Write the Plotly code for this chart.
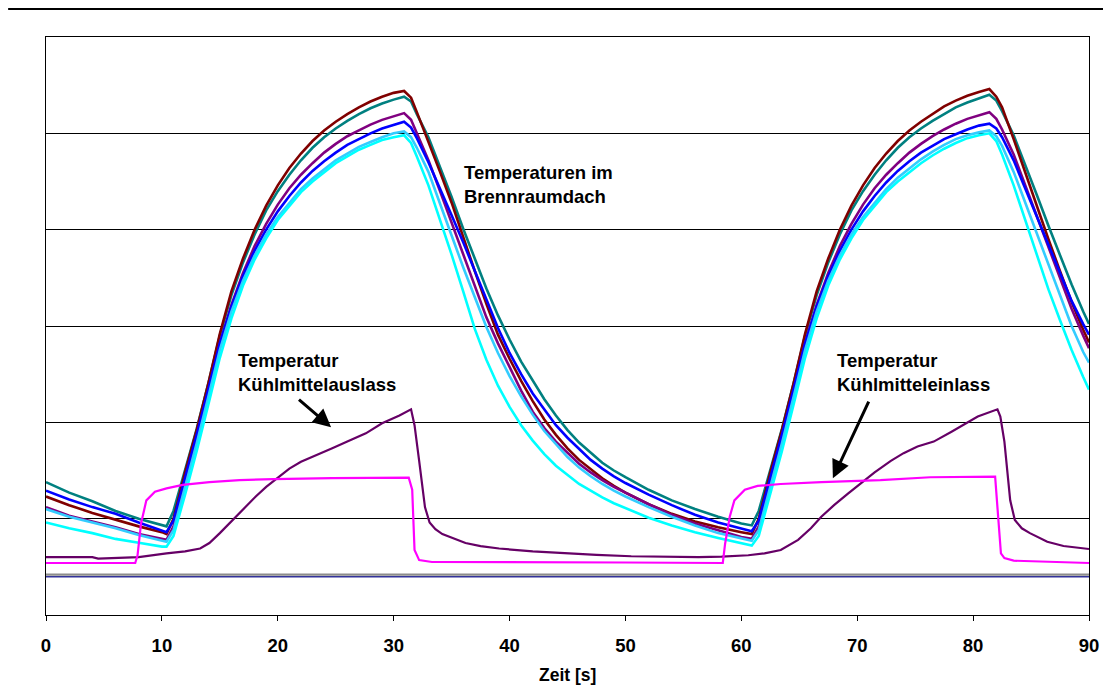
import plotly.graph_objects as go

# ---------------- data ----------------
zeit = [0, 2, 4, 6, 8, 10, 10.4, 11, 12, 13, 14, 15, 16, 17, 18, 19, 20, 21, 22, 23, 24, 25, 26, 27, 28, 29, 30,
        30.9, 31.5, 32, 33, 34, 35, 36, 37, 38, 39, 40, 41, 42, 43, 44, 45, 46, 47, 48, 49, 50,
        52, 54, 56, 58, 60, 60.9, 61.5, 62.5, 63.5, 64.5, 65.5, 66.5, 67.5, 68.5, 69.5, 70.5, 71.5, 72.5,
        73.5, 74.5, 75.5, 76.5, 77.5, 78.5, 79.5, 80.5, 81.4, 82, 82.5, 83.5, 84.5, 85.5, 86.5, 87.5, 88.5, 89.5, 90]

dach_dunkelrot = [123, 114, 106, 99, 92, 86, 84, 100,
                  148, 192, 240, 292, 336, 370, 400, 425, 446, 464, 479, 492, 503, 512, 520, 527, 533, 538, 542,
                  544, 537,
                  522, 492, 460, 428, 392, 357, 323, 291, 266, 243, 222, 203, 187, 173, 161, 151, 142, 134, 127,
                  115, 105, 97, 91, 86, 84, 100,
                  148, 192, 240, 292, 336, 370, 400, 425, 446, 464, 479, 492, 503, 512, 520, 528, 534, 539, 543,
                  546, 538, 527,
                  494, 459, 424, 390, 357, 325, 296, 283]

dach_petrol = [138, 127, 118, 108, 100, 94, 92, 108,
               150, 193, 240, 290, 332, 366, 395, 420, 440, 457, 472, 485, 496, 505, 513, 520, 526, 531, 535,
               538, 533,
               520, 496, 466, 434, 401, 369, 339, 311, 286, 263, 243, 224, 207, 192, 179, 168, 158, 150, 143,
               130, 119, 110, 102, 95, 93, 108,
               150, 193, 240, 290, 332, 366, 395, 420, 440, 457, 472, 485, 496, 505, 513, 520, 527, 532, 536,
               540, 534, 523,
               498, 468, 436, 404, 373, 343, 315, 302]

dach_violett = [112, 103, 97, 91, 84, 79, 78, 92,
                138, 184, 232, 282, 322, 355, 383, 406, 426, 443, 457, 469, 480, 489, 497, 503, 509, 514, 518,
                521, 514,
                500, 472, 440, 407, 373, 340, 309, 282, 257, 233, 211, 194, 180, 168, 157, 148, 140, 133, 127,
                115, 104, 95, 88, 81, 79, 92,
                138, 184, 232, 282, 322, 355, 383, 406, 426, 443, 457, 469, 480, 489, 497, 504, 510, 515, 519,
                522, 515, 504,
                478, 446, 413, 380, 348, 318, 290, 277]

dach_blau = [129, 120, 112, 105, 96, 88, 86, 98,
             142, 187, 234, 282, 320, 352, 378, 400, 419, 435, 449, 461, 471, 480, 488, 494, 500, 505, 509,
             512, 506,
             495, 470, 443, 415, 387, 357, 327, 298, 272, 250, 230, 213, 197, 184, 172, 161, 152, 144, 137,
             125, 114, 104, 96, 90, 87, 98,
             142, 187, 234, 282, 320, 352, 378, 400, 419, 435, 449, 461, 471, 480, 487, 494, 499, 504, 508,
             510, 505, 496,
             472, 443, 413, 383, 354, 326, 302, 291]

dach_hellblau = [110, 102, 96, 90, 83, 77, 76, 88,
                 132, 178, 226, 275, 315, 347, 373, 395, 413, 428, 442, 453, 463, 472, 479, 486, 491, 496, 500,
                 502, 496,
                 485, 460, 428, 394, 361, 329, 299, 272, 248, 227, 208, 191, 177, 164, 153, 144, 136, 129, 123,
                 112, 102, 93, 85, 79, 77, 88,
                 132, 178, 226, 275, 315, 347, 373, 395, 413, 428, 442, 454, 464, 473, 481, 488, 494, 498, 501,
                 503, 497, 487,
                 460, 428, 395, 362, 330, 300, 273, 262]

dach_tuerkis = [96, 90, 85, 79, 75, 71, 71, 82,
                125, 170, 218, 267, 308, 342, 369, 391, 410, 425, 439, 450, 460, 469, 476, 483, 488, 493, 496,
                498, 490,
                476, 446, 411, 374, 336, 297, 265, 238, 216, 197, 181, 167, 155, 145, 136, 129, 122, 116, 111,
                101, 93, 86, 80, 74, 72, 82,
                125, 170, 218, 267, 308, 342, 369, 391, 410, 425, 439, 450, 460, 469, 477, 484, 490, 495, 498,
                500, 492, 478,
                446, 410, 374, 338, 306, 275, 247, 234]

zeit_auslass = [0, 4, 4.5, 8, 10.4, 12, 13.3, 14.1, 15, 16.1, 17, 18.1, 19, 20.1, 21, 22, 23, 24.7, 26, 27.6,
                29, 30.5, 31.5, 31.8, 32.2, 32.7, 33.1, 33.6, 34.2, 35, 36.2, 37.5, 39.1, 42, 44.8, 47.5, 50.5,
                53, 56.3, 58.3, 60.6, 62, 63.4, 64.9, 66, 66.9, 68, 69.2, 70.3, 71.5, 72.9, 74, 75.2, 76.6,
                78.1, 79.3, 80.4, 82.1, 82.35, 82.7, 83.2, 83.6, 84.2, 84.9, 86.4, 87.8, 90]
kuehlmittel_auslass = [60, 60, 58.5, 60, 64, 66, 69, 74.7, 85, 98.6, 110, 123, 133, 143.6, 152, 159, 164, 173,
                       180, 188.6, 199, 207, 213.5, 197, 160, 112, 96, 89, 84, 80, 74.7, 71.5, 69, 66, 64, 62.5,
                       61, 60.5, 60, 60.5, 62, 64, 67.5, 78, 90, 102, 114, 126, 137, 148, 160, 168, 175, 180,
                       190, 198, 206, 213.5, 206, 180, 119, 98.6, 90, 85, 76, 71.6, 68.5]

zeit_einlass = [0, 7.7, 7.9, 8.2, 8.66, 9.4, 10.4, 11.8, 14.1, 16.7, 19.6, 24.7, 31.3, 31.6, 31.8, 32.2, 33.3,
                40, 50, 58.4, 58.6, 59.0, 59.4, 60.3, 61.4, 63.4, 66.9, 72, 76.3, 81.9, 82.1, 82.4, 82.7,
                83.5, 90]
kuehlmittel_einlass = [54, 54, 62, 95, 119, 128, 131.5, 135, 138, 140, 141, 142, 142.5, 130, 67.5, 57, 55,
                       55, 54.5, 54, 74, 102, 119, 130, 134, 136, 138, 140, 143, 143.6, 109, 64, 59, 56.4, 54]

zeit_rand = [0, 90]
grau_linie = [42, 42]
blau_linie = [39.7, 39.7]

x_ticks = [0, 10, 20, 30, 40, 50, 60, 70, 80, 90]

FONT = "Liberation Sans, Arial, sans-serif"

fig = go.Figure()

roof = [
    (dach_petrol, "#008080"),
    (dach_dunkelrot, "#800000"),
    (dach_violett, "#800080"),
    (dach_blau, "#0000FF"),
    (dach_hellblau, "#33CCFF"),
    (dach_tuerkis, "#00FFFF"),
]
for vals, col in roof:
    fig.add_trace(go.Scatter(x=zeit, y=vals, mode="lines",
                             line=dict(color=col, width=2.6), showlegend=False, hoverinfo="skip"))

fig.add_trace(go.Scatter(x=zeit_auslass, y=kuehlmittel_auslass, mode="lines",
                         line=dict(color="#660066", width=2.2), showlegend=False))
fig.add_trace(go.Scatter(x=zeit_einlass, y=kuehlmittel_einlass, mode="lines",
                         line=dict(color="#FF00FF", width=2.2), showlegend=False))
fig.add_trace(go.Scatter(x=zeit_rand, y=grau_linie, mode="lines",
                         line=dict(color="#8C8C8C", width=2.2), showlegend=False))
fig.add_trace(go.Scatter(x=zeit_rand, y=blau_linie, mode="lines",
                         line=dict(color="#333399", width=1.3), showlegend=False))

txt_font = dict(family=FONT, size=18.5, color="black", weight="bold")

annotations = [
    dict(x=35.9, y=447, xref="x", yref="y", text="Temperaturen im<br>Brennraumdach",
         showarrow=False, xanchor="left", yanchor="middle", align="left", font=txt_font),
    dict(x=16.4, y=252, xref="x", yref="y", text="Temperatur<br>Kühlmittelauslass",
         showarrow=False, xanchor="left", yanchor="middle", align="left", font=txt_font),
    dict(x=68.1, y=252, xref="x", yref="y", text="Temperatur<br>Kühlmitteleinlass",
         showarrow=False, xanchor="left", yanchor="middle", align="left", font=txt_font),
    dict(x=24.6, y=195, ax=21.7, ay=225, xref="x", yref="y", axref="x", ayref="y", text="",
         showarrow=True, arrowhead=2, arrowsize=1.2, arrowwidth=3, arrowcolor="black", standoff=0),
    dict(x=67.9, y=142, ax=71.05, ay=223, xref="x", yref="y", axref="x", ayref="y", text="",
         showarrow=True, arrowhead=2, arrowsize=1.2, arrowwidth=3, arrowcolor="black", standoff=0),
    dict(x=0.5, y=-0.104, xref="paper", yref="paper", text="Zeit [s]", showarrow=False,
         xanchor="center", yanchor="middle", font=dict(family=FONT, size=17.5, color="black", weight="bold")),
]

fig.update_layout(
    width=1103, height=679,
    margin=dict(l=38, r=19, t=29, b=72),
    paper_bgcolor="white", plot_bgcolor="white",
    annotations=annotations,
    shapes=[dict(type="line", xref="paper", yref="paper", x0=-0.0363, x1=1.0182, y0=1.0484, y1=1.0484,
                 line=dict(color="black", width=2.2))],
    xaxis=dict(range=[0, 90], tickvals=x_ticks, ticks="outside", ticklen=5, tickcolor="black",
               showline=True, mirror=True, linecolor="black", linewidth=1, showgrid=False, zeroline=False,
               tickfont=dict(family=FONT, size=18.5, color="black", weight="bold"), ticklabelstandoff=9),
    yaxis=dict(range=[0, 600], dtick=100, showticklabels=False, ticks="", showgrid=True,
               gridcolor="black", gridwidth=1, showline=True, mirror=True, linecolor="black",
               linewidth=1, zeroline=False),
)

fig.write_html("out.html")
